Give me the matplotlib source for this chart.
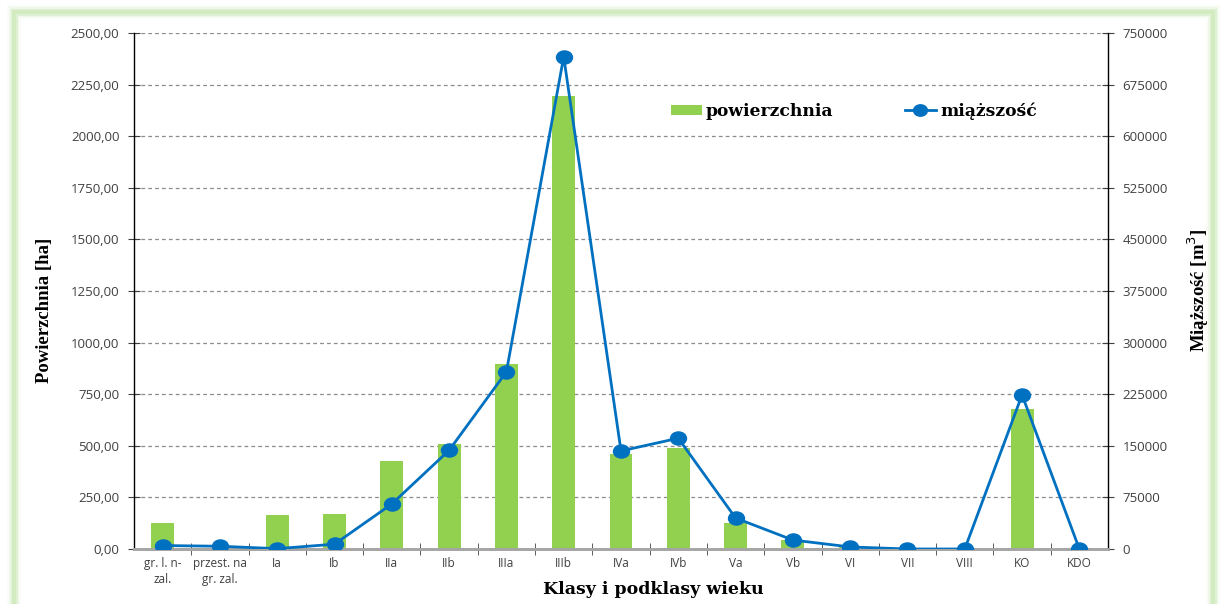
import matplotlib
matplotlib.use("Agg")
import matplotlib.pyplot as plt
import numpy as np
from matplotlib.patches import Rectangle, Patch
from matplotlib.lines import Line2D
from matplotlib.path import Path

categories = ["gr. l. n-\nzal.", "przest. na\ngr. zal.", "Ia", "Ib", "IIa", "IIb", "IIIa", "IIIb",
              "IVa", "IVb", "Va", "Vb", "VI", "VII", "VIII", "KO", "KDO"]
powierzchnia = [125, 0, 165, 170, 425, 510, 895, 2195, 460, 487, 126, 44, 10, 0, 0, 680, 4]
miazszosc = [5000, 4000, 500, 7000, 65500, 143500, 257500, 715500, 142500, 161000, 45000, 13000, 3000, 0, 0, 224000, 0]

left_ticks = [0, 250, 500, 750, 1000, 1250, 1500, 1750, 2000, 2250, 2500]
right_ticks = [0, 75000, 150000, 225000, 300000, 375000, 450000, 525000, 600000, 675000, 750000]

W, H = 1221, 604
fig = plt.figure(figsize=(W / 100, H / 100), dpi=100)
fig.patch.set_facecolor("white")

# green frame
def px_rect(x0, y0, x1, y1, **kw):
    return Rectangle((x0 / W, 1 - y1 / H), (x1 - x0) / W, (y1 - y0) / H,
                     transform=fig.transFigure, fill=False, **kw)

for lw, a in [(14, 0.12), (10, 0.25), (7, 0.5), (4, 1.0)]:
    fig.patches.append(px_rect(14, 12, 1213, 640, edgecolor="#d3ebc0", linewidth=lw * 0.72, alpha=a))

ax = fig.add_axes([134 / W, 55 / H, 974 / W, 516 / H])
ax2 = ax.twinx()

circ = Path.unit_circle()
ellipse = Path(circ.vertices * np.array([1.0, 0.82]), circ.codes)

x = np.arange(len(categories))
ax.bar(x, powierzchnia, width=0.4, color="#92d050", zorder=2)
ax2.plot(x, miazszosc, color="#0070c0", lw=2.0, marker=ellipse, ms=11.5, zorder=3)

ax.set_xlim(-0.5, len(categories) - 0.5)
ax.set_ylim(0, 2500)
ax2.set_ylim(0, 750000)
ax.set_yticks(left_ticks)
ax.set_yticklabels([f"{v:.2f}".replace(".", ",") for v in left_ticks])
ax2.set_yticks(right_ticks)
ax2.set_yticklabels([str(v) for v in right_ticks])

ax.grid(axis="y", linestyle=(0, (3, 2.5)), color="#8c8c8c", lw=0.9, zorder=0)
ax.set_axisbelow(True)

tick_font = dict(family="Open Sans", size=9.5, color="#404040")
for lab in ax.get_yticklabels():
    lab.set(**tick_font)
for lab in ax2.get_yticklabels():
    lab.set(**tick_font)

ax.set_xticks(x)
ax.set_xticklabels(categories, family="Open Sans", size=8.5, color="#404040", linespacing=1.3)
ax.set_xticks(np.arange(0.5, len(categories) - 1, 1), minor=True)
ax.tick_params(axis="x", which="major", length=0, pad=6)
ax.tick_params(axis="x", which="minor", length=8, direction="inout", color="#404040")
ax.tick_params(axis="y", length=9, direction="inout", color="#404040", pad=6)
ax2.tick_params(axis="y", length=9, direction="inout", color="#404040", pad=6)

for a in (ax, ax2):
    a.spines["top"].set_visible(False)
    a.spines["bottom"].set_color("#a6a6a6")
    a.spines["bottom"].set_linewidth(2)
    a.spines["left"].set_color("#000000")
    a.spines["right"].set_color("#000000")
    a.spines["left"].set_linewidth(1)
    a.spines["right"].set_linewidth(1)
ax2.spines["left"].set_visible(False)
ax.spines["right"].set_visible(False)

title_font = dict(family="Liberation Serif", weight="bold", size=13.5, color="black")
fig.text(45 / W, 1 - 310 / H, "Powierzchnia [ha]", rotation=90, ha="center", va="center", **title_font)
fig.text(1198 / W, 1 - 290 / H, "Miąższość [m$^3$]", rotation=90, ha="center", va="center", **title_font)
fig.text(653 / W, 1 - 589 / H, "Klasy i podklasy wieku", ha="center", va="center",
         family="DejaVu Serif", weight="bold", size=12.5)

handles = [Patch(facecolor="#92d050", edgecolor="none"),
           Line2D([0], [0], color="#0070c0", lw=2.0, marker=ellipse, ms=10)]
leg = ax.legend(handles, ["powierzchnia", "miąższość"], loc="center left",
                bbox_to_anchor=((664 - 134) / 974, (549 - 111) / 516), ncol=2, frameon=False,
                prop=dict(family="DejaVu Serif", weight="bold", size=12.3),
                handlelength=1.8, handleheight=0.5, handletextpad=0.25, columnspacing=4.2,
                borderaxespad=0)
leg.set_zorder(5)

fig.savefig("out.png", dpi=100)
